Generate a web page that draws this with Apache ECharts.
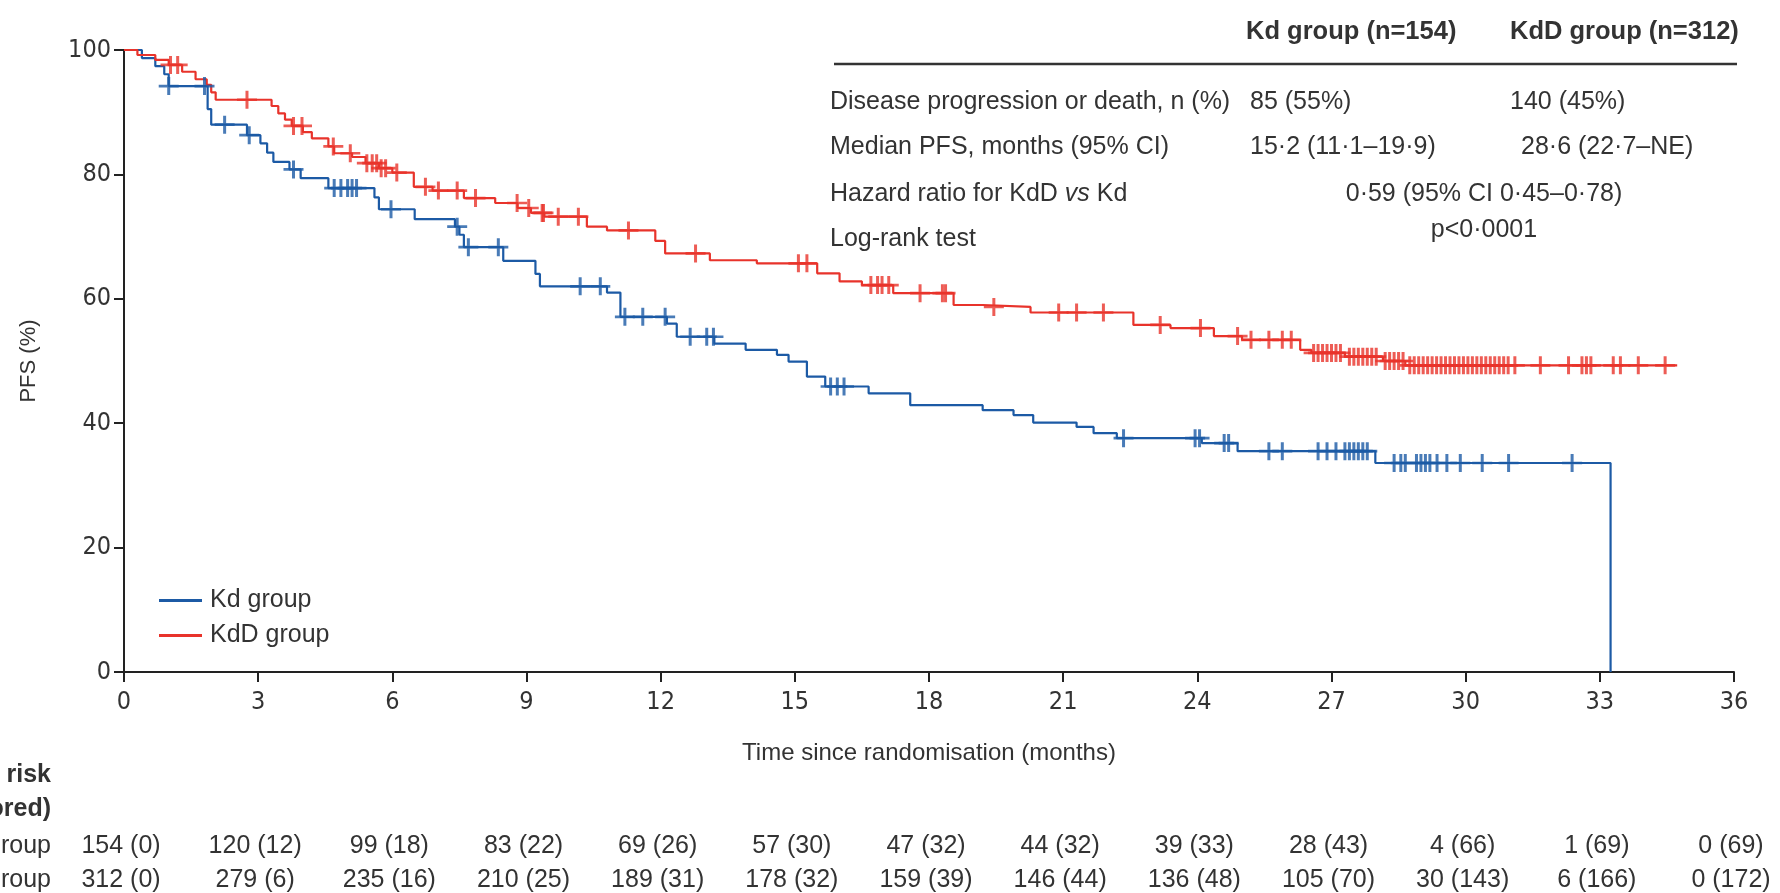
<!DOCTYPE html>
<html>
<head>
<meta charset="utf-8">
<script src="https://cdn.jsdelivr.net/npm/echarts@6.0.0/dist/echarts.min.js"></script>
<style>
  html, body { margin: 0; padding: 0; background: #fff; }
  #main { width: 1780px; height: 893px; }
</style>
</head>
<body>
<div id="main"></div>
<script>
// Kaplan-Meier steps: [month, PFS % after the drop]
const kdSteps = [
  [0, 100], [0.4, 98.7], [0.7, 97.4], [0.9, 96.1], [1.0, 94.2], [1.87, 90.5], [1.95, 88.0],
  [2.75, 86.3], [3.05, 85.0], [3.2, 83.5], [3.34, 82.0], [3.7, 80.8], [3.95, 79.4],
  [4.57, 77.8], [5.6, 76.3], [5.7, 74.4], [6.5, 72.8], [7.4, 71.6], [7.5, 70.3], [7.6, 68.3],
  [8.48, 66.1], [9.2, 64.0], [9.3, 62.0], [10.8, 61.0], [11.1, 57.1], [12.14, 56.0],
  [12.36, 53.9], [13.2, 52.8], [13.9, 51.8], [14.6, 51.0], [14.86, 49.9], [15.27, 47.5],
  [15.68, 45.9], [16.65, 44.8], [17.58, 42.9], [19.2, 42.1], [19.89, 41.3], [20.33, 40.1],
  [21.3, 39.4], [21.68, 38.4], [22.2, 37.6], [24.1, 36.8], [24.9, 35.5], [27.98, 33.6],
  [33.24, 0]
];
const kddSteps = [
  [0, 100], [0.3, 99.2], [0.7, 98.4], [1.0, 97.6], [1.3, 96.5], [1.6, 95.3], [1.85, 94.4],
  [1.95, 93.2], [2.05, 92.0], [3.3, 91.0], [3.45, 89.8], [3.6, 88.8], [3.75, 87.8],
  [4.0, 86.8], [4.2, 85.8], [4.57, 84.5], [4.7, 83.4], [5.1, 82.8], [5.4, 81.8], [5.7, 81.0],
  [6.0, 80.3], [6.48, 78.0], [6.9, 77.4], [7.6, 76.2], [8.3, 75.4], [8.8, 74.6], [9.1, 73.8],
  [9.4, 73.2], [10.35, 71.6], [10.8, 71.0], [11.88, 69.3], [12.1, 67.3], [13.1, 66.2],
  [14.15, 65.7], [15.5, 64.1], [16.0, 62.8], [16.5, 62.2], [17.2, 60.9], [18.55, 59.0],
  [19.2, 58.7], [20.27, 57.8], [22.57, 55.8], [23.4, 55.3], [24.37, 54.0], [25.0, 53.4],
  [26.3, 51.8], [26.55, 51.3], [27.3, 50.7], [28.15, 50.0], [28.65, 49.3], [34.73, 49.3]
];

// censored observations (months)
const kdCensor = [
  1.0, 1.8, 2.25, 2.8, 3.79, 4.7, 4.85, 5.0, 5.1, 5.2, 5.97, 7.45, 7.7, 8.37, 10.2, 10.65,
  11.2, 11.6, 12.1, 12.66, 13.03, 13.18, 15.8, 15.95, 16.1, 22.35, 23.95, 24.05, 24.6, 24.7,
  25.6, 25.9, 26.7, 26.9, 27.1, 27.3, 27.4, 27.5, 27.6, 27.7, 27.8, 28.4, 28.55, 28.65,
  28.9, 29.0, 29.1, 29.2, 29.36, 29.58, 29.88, 30.37, 30.96, 32.38
];
const kddCensor = [
  1.04, 1.2, 2.75, 3.79, 3.98, 4.68, 5.06, 5.43, 5.55, 5.65, 5.75, 5.85, 6.1, 6.74, 7.03,
  7.45, 7.86, 8.79, 9.05, 9.35, 9.38, 9.71, 10.16, 11.28, 12.78, 15.08, 15.27, 16.7, 16.85,
  16.95, 17.1, 17.8, 18.3, 18.37, 19.45, 20.9, 21.3, 21.9, 23.17, 24.07, 24.9, 25.2, 25.6,
  25.9, 26.1, 26.6, 26.7, 26.8, 26.9, 27.0, 27.1, 27.2, 27.4, 27.5, 27.6, 27.7, 27.8, 27.9,
  28.0, 28.2, 28.3, 28.4, 28.5, 28.6, 28.75, 28.85, 28.95, 29.05, 29.15, 29.25, 29.35,
  29.45, 29.55, 29.65, 29.75, 29.85, 29.95, 30.05, 30.15, 30.25, 30.35, 30.45, 30.55,
  30.65, 30.75, 30.85, 30.95, 31.1, 31.67, 32.3, 32.6, 32.7, 32.8, 33.3, 33.46, 33.86, 34.46
];

// numbers at risk (number censored)
const riskTimes = [0, 3, 6, 9, 12, 15, 18, 21, 24, 27, 30, 33, 36];
const kdRisk = ['154 (0)', '120 (12)', '99 (18)', '83 (22)', '69 (26)', '57 (30)', '47 (32)',
  '44 (32)', '39 (33)', '28 (43)', '4 (66)', '1 (69)', '0 (69)'];
const kddRisk = ['312 (0)', '279 (6)', '235 (16)', '210 (25)', '189 (31)', '178 (32)', '159 (39)',
  '146 (44)', '136 (48)', '105 (70)', '30 (143)', '6 (166)', '0 (172)'];

// summary table
const tableHeader = ['Kd group (n=154)', 'KdD group (n=312)'];
const tableRows = [
  ['Disease progression or death, n (%)', '85 (55%)', '140 (45%)'],
  ['Median PFS, months (95% CI)', '15·2 (11·1–19·9)', '28·6 (22·7–NE)']
];
const hazardText = '0·59 (95% CI 0·45–0·78)';
const logRankText = 'p<0·0001';

const BLUE = '#1c5aa5';
const RED = '#e8332b';
const TEXT = '#333';
const FONT = '"Liberation Sans", Arial, sans-serif';
const NARROW = '"Liberation Sans Narrow", "DejaVu Sans Condensed", "Liberation Sans", sans-serif';
const PLUS = 'path://M-1.5,-10H1.5V-1.5H10V1.5H1.5V10H-1.5V1.5H-10V-1.5H-1.5Z';

// survival value at time t from a step list
function survAt(steps, t) {
  let v = steps[0][1];
  for (const s of steps) {
    if (s[0] <= t) v = s[1];
    else break;
  }
  return v;
}

const chart = echarts.init(document.getElementById('main'), null, { renderer: 'canvas' });

const option = {
  animation: false,
  backgroundColor: '#fff',
  grid: { left: 124, right: 46, top: 50, bottom: 221 },
  legend: {
    left: 159, top: 588, orient: 'vertical', icon: 'rect', padding: 0,
    itemWidth: 43, itemHeight: 3, itemGap: 10,
    data: ['Kd group', 'KdD group'],
    textStyle: { fontFamily: FONT, fontSize: 25, color: TEXT, lineHeight: 25, padding: [0, 0, 0, 3] }
  },
  xAxis: {
    type: 'value', min: 0, max: 36, interval: 3,
    name: 'Time since randomisation (months)', nameLocation: 'middle', nameGap: 69,
    nameTextStyle: { fontFamily: FONT, fontSize: 24, color: TEXT },
    axisLine: { lineStyle: { color: '#222', width: 2 } },
    axisTick: { length: 10, lineStyle: { color: '#222', width: 2 } },
    axisLabel: { fontFamily: NARROW, fontSize: 25, color: TEXT, margin: 18 },
    splitLine: { show: false }
  },
  yAxis: {
    type: 'value', min: 0, max: 100, interval: 20,
    name: 'PFS (%)', nameLocation: 'middle', nameGap: 84, nameRotate: 90,
    nameTextStyle: { fontFamily: FONT, fontSize: 22, color: TEXT },
    axisLine: { show: true, lineStyle: { color: '#222', width: 2 } },
    axisTick: { show: true, length: 10, lineStyle: { color: '#222', width: 2 } },
    axisLabel: { fontFamily: NARROW, fontSize: 25, color: TEXT, margin: 13 },
    splitLine: { show: false }
  },
  series: [
    {
      name: 'Kd group', type: 'line', step: 'end', symbol: 'none', data: kdSteps,
      color: BLUE, lineStyle: { color: BLUE, width: 2.2 }, z: 3
    },
    {
      name: 'KdD group', type: 'line', step: 'end', symbol: 'none', data: kddSteps,
      color: RED, lineStyle: { color: RED, width: 2.2 }, z: 3
    },
    {
      name: 'Kd censored', type: 'scatter', symbol: PLUS, symbolSize: [20, 18],
      data: kdCensor.map(t => [t, survAt(kdSteps, t)]),
      itemStyle: { color: BLUE }, z: 4
    },
    {
      name: 'KdD censored', type: 'scatter', symbol: PLUS, symbolSize: [20, 18],
      data: kddCensor.map(t => [t, survAt(kddSteps, t)]),
      itemStyle: { color: RED }, z: 4
    }
  ]
};
chart.setOption(option);

// text blocks laid out around the plot
const graphics = [];
function addText(text, x, y, align, extra) {
  graphics.push({
    type: 'text', silent: true,
    style: Object.assign({
      text: text, x: x, y: y, align: align || 'left', verticalAlign: 'middle',
      fontFamily: FONT, fontSize: 25, fill: TEXT
    }, extra || {})
  });
}

// summary table at top right
addText(tableHeader[0], 1246, 32, 'left', { fontWeight: 'bold', fontSize: 25.5 });
addText(tableHeader[1], 1510, 32, 'left', { fontWeight: 'bold', fontSize: 25.5 });
graphics.push({
  type: 'line', silent: true,
  shape: { x1: 834, y1: 64, x2: 1737, y2: 64 },
  style: { stroke: '#333', lineWidth: 2.5 }
});
addText(tableRows[0][0], 830, 102);
addText(tableRows[0][1], 1250, 102);
addText(tableRows[0][2], 1510, 102);
addText(tableRows[1][0], 830, 147);
addText(tableRows[1][1], 1250, 147);
addText(tableRows[1][2], 1521, 147);
graphics.push({
  type: 'text', silent: true,
  style: {
    text: '{n|Hazard ratio for KdD }{i|vs}{n| Kd}', x: 830, y: 194, verticalAlign: 'middle',
    fontFamily: FONT, fontSize: 25, fill: TEXT,
    rich: {
      n: { fontFamily: FONT, fontSize: 25, fill: TEXT },
      i: { fontFamily: FONT, fontSize: 25, fill: TEXT, fontStyle: 'italic' }
    }
  }
});
addText(hazardText, 1484, 194, 'center');
addText('Log-rank test', 830, 239);
addText(logRankText, 1484, 230, 'center');

// number at risk table
addText('Number at risk', 51, 775, 'right', { fontWeight: 'bold' });
addText('(number censored)', 51, 809, 'right', { fontWeight: 'bold' });
addText('Kd group', 51, 846, 'right');
addText('KdD group', 51, 880, 'right');
riskTimes.forEach((t, i) => {
  const px = chart.convertToPixel({ xAxisIndex: 0 }, t);
  addText(kdRisk[i], px - 3, 846, 'center');
  addText(kddRisk[i], px - 3, 880, 'center');
});

chart.setOption({ graphic: graphics });
</script>
</body>
</html>
